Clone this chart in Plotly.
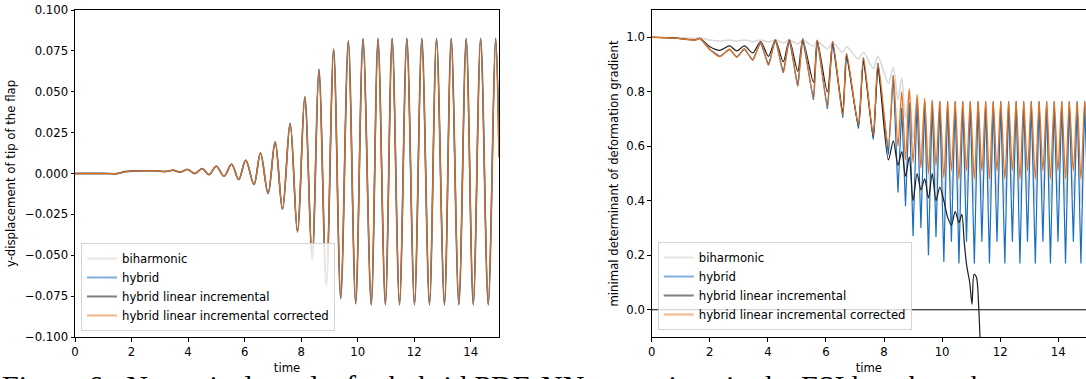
import plotly.graph_objects as go

# ---------------- left panel: y-displacement of tip of the flap ----------------
disp_time = [0.0, 1.0, 1.5, 1.8, 2.3, 2.8, 3.2, 3.475, 3.72, 3.98, 4.24, 4.50, 4.74, 5.00,
             5.27, 5.54, 5.79, 6.04, 6.33, 6.56, 6.83, 7.08, 7.34, 7.61, 7.87, 8.13, 8.39,
             8.63, 8.89, 9.15, 9.40, 9.67, 9.93, 10.19, 10.48, 10.72, 10.98, 11.22, 11.48,
             11.74, 12.01, 12.27, 12.54, 12.79, 13.07, 13.31, 13.58, 13.84, 14.09, 14.35,
             14.62, 14.88, 15.0]
disp_value = [0.0, 0.0, 0.0, 0.0012, 0.0016, 0.0017, 0.0012, 0.0020, 0.0008, 0.0025, 0.0,
              0.0030, -0.0007, 0.0045, -0.0017, 0.0057, -0.0037, 0.0081, -0.0067, 0.0126,
              -0.0122, 0.0193, -0.0218, 0.0306, -0.0357, 0.0468, -0.0524, 0.0636, -0.0687,
              0.0760, -0.0764, 0.0810, -0.0795, 0.0823, -0.0800, 0.0823, -0.0800, 0.0825,
              -0.0800, 0.0825, -0.0800, 0.0825, -0.0800, 0.0825, -0.0800, 0.0825, -0.0800,
              0.0825, -0.0800, 0.0825, -0.0800, 0.0825, 0.0100]
disp_hybrid = [0.0, 0.0, 0.0, 0.0012, 0.0016, 0.0017, 0.0012, 0.0020, 0.0008, 0.0025, 0.0,
               0.0030, -0.0007, 0.0045, -0.0017, 0.0057, -0.0037, 0.0081, -0.0067, 0.0126,
               -0.0122, 0.0193, -0.0218, 0.0306, -0.0357, 0.0468, -0.0524, 0.0636, -0.0680,
               0.0762, -0.0766, 0.0812, -0.0798, 0.0826, -0.0805, 0.0827, -0.0806, 0.0828,
               -0.0806, 0.0828, -0.0806, 0.0828, -0.0806, 0.0828, -0.0806, 0.0828, -0.0806,
               0.0828, -0.0806, 0.0828, -0.0806, 0.0828, 0.0200]

# ---------------- right panel: minimal determinant of deformation gradient ----------------
det_time = [0.0, 0.8, 1.5, 1.66, 2.0, 2.35, 2.68, 2.93, 3.19, 3.48,
            3.75, 4.02, 4.26, 4.53, 4.74, 5.03, 5.20, 5.57, 5.70, 6.05,
            6.23, 6.58, 6.71, 7.12, 7.29, 7.63, 7.79, 8.15, 8.32, 8.48,
            8.61, 8.74, 8.87, 9.00, 9.14, 9.27,
            9.40, 9.53, 9.66, 9.79, 9.92, 10.06, 10.19, 10.32, 10.45, 10.58,
            10.71, 10.84, 10.97, 11.11, 11.24, 11.37, 11.50, 11.63, 11.76, 11.89,
            12.02, 12.16, 12.29, 12.42, 12.55, 12.68, 12.81, 12.94, 13.07, 13.21,
            13.34, 13.47, 13.60, 13.73, 13.86, 13.99, 14.12, 14.25, 14.38, 14.52,
            14.65, 14.78, 14.91, 15.0]
det_biharmonic = [1.0, 0.999, 0.996, 0.998, 0.990, 0.986, 0.990, 0.986, 0.990, 0.984,
                  0.990, 0.982, 0.990, 0.980, 0.990, 0.975, 0.990, 0.968, 0.985, 0.958,
                  0.980, 0.945, 0.965, 0.920, 0.945, 0.885, 0.930, 0.830, 0.890, 0.770,
                  0.850, 0.700, 0.810, 0.630, 0.780, 0.560,
                  0.760, 0.480, 0.750, 0.450, 0.740, 0.400, 0.730, 0.420, 0.730, 0.390,
                  0.730, 0.420, 0.730, 0.390, 0.730, 0.420, 0.730, 0.390, 0.730, 0.420,
                  0.730, 0.390, 0.730, 0.420, 0.730, 0.390, 0.730, 0.420, 0.730, 0.390,
                  0.730, 0.420, 0.730, 0.390, 0.730, 0.420, 0.730, 0.390, 0.730, 0.420,
                  0.730, 0.390, 0.730, 0.560]
det_hybrid = [1.0, 0.997, 0.990, 0.996, 0.955, 0.929, 0.956, 0.927, 0.957, 0.916,
              0.982, 0.898, 0.992, 0.870, 0.992, 0.821, 0.995, 0.770, 0.990, 0.737,
              0.985, 0.705, 0.940, 0.665, 0.925, 0.625, 0.905, 0.570, 0.860, 0.430,
              0.740, 0.380, 0.760, 0.270, 0.770, 0.300,
              0.765, 0.200, 0.765, 0.267, 0.765, 0.175, 0.765, 0.250, 0.765, 0.170,
              0.765, 0.250, 0.765, 0.170, 0.765, 0.250, 0.765, 0.170, 0.765, 0.250,
              0.765, 0.170, 0.765, 0.250, 0.765, 0.170, 0.765, 0.250, 0.765, 0.170,
              0.765, 0.250, 0.765, 0.170, 0.765, 0.250, 0.765, 0.170, 0.765, 0.250,
              0.765, 0.170, 0.765, 0.450]
det_corrected = [1.0, 0.997, 0.990, 0.996, 0.955, 0.929, 0.956, 0.927, 0.957, 0.916,
                 0.982, 0.898, 0.992, 0.870, 0.992, 0.821, 0.995, 0.776, 0.990, 0.745,
                 0.985, 0.714, 0.940, 0.678, 0.925, 0.641, 0.905, 0.598, 0.860, 0.600,
                 0.800, 0.550, 0.810, 0.540, 0.790, 0.520,
                 0.776, 0.500, 0.770, 0.530, 0.765, 0.485, 0.765, 0.510, 0.765, 0.480,
                 0.765, 0.510, 0.765, 0.480, 0.765, 0.510, 0.765, 0.480, 0.765, 0.510,
                 0.765, 0.480, 0.765, 0.510, 0.765, 0.480, 0.765, 0.510, 0.765, 0.480,
                 0.765, 0.510, 0.765, 0.480, 0.765, 0.510, 0.765, 0.480, 0.765, 0.510,
                 0.765, 0.480, 0.765, 0.620]
det_lin_inc_time = [0.0, 0.8, 1.5, 1.66, 2.0, 2.35, 2.68, 2.93, 3.19, 3.48,
                    3.75, 4.02, 4.26, 4.53, 4.74, 5.03, 5.20, 5.57, 5.70, 6.05,
                    6.23, 6.58, 6.71, 7.12, 7.29, 7.63, 7.79, 8.15, 8.32, 8.48,
                    8.61, 8.74, 8.87, 9.00, 9.14, 9.27, 9.40, 9.53, 9.66, 9.79,
                    9.92, 10.06, 10.19, 10.32, 10.45, 10.58, 10.68, 10.76, 10.85, 10.95,
                    11.03, 11.10, 11.18, 11.26, 11.32]
det_lin_inc = [1.0, 0.997, 0.990, 0.996, 0.965, 0.952, 0.968, 0.950, 0.968, 0.943,
               0.984, 0.930, 0.990, 0.910, 0.990, 0.875, 0.990, 0.835, 0.985, 0.800,
               0.975, 0.730, 0.930, 0.675, 0.910, 0.635, 0.885, 0.550, 0.620, 0.530,
               0.580, 0.490, 0.560, 0.400, 0.500, 0.440, 0.480, 0.410, 0.500, 0.400,
               0.450, 0.400, 0.340, 0.310, 0.360, 0.320, 0.350, 0.250, 0.160, 0.100,
               0.020, 0.130, 0.120, 0.010, -0.150]

series_names = ["biharmonic", "hybrid", "hybrid linear incremental",
                "hybrid linear incremental corrected"]
plot_colors = ["#d9d9d9", "#1a6fc0", "#1e1e1e", "#e8711a"]
legend_colors = ["#e6e6e6", "#7fb1dc", "#7f7f7f", "#f4b48a"]

FONT = "DejaVu Sans"
FS = 11.7

fig = go.Figure()

# left panel
left_series = [(disp_time, disp_value), (disp_time, disp_hybrid),
               (disp_time, disp_value), (disp_time, disp_value)]
left_colors = ["#dcdcdc", "#1a6fc0", "#5a5a5a", "#e8711a"]
left_opac = [1.0, 1.0, 0.8, 0.9]
left_width = [2.0, 1.4, 1.5, 1.3]
for i, (tx, ty) in enumerate(left_series):
    fig.add_trace(go.Scatter(x=tx, y=ty, mode="lines", xaxis="x", yaxis="y",
                             line=dict(color=left_colors[i], width=left_width[i],
                                       shape="spline", smoothing=1.0),
                             opacity=left_opac[i], showlegend=False, hoverinfo="skip"))

# right panel
right_series = [(det_time, det_biharmonic, "spline"), (det_time, det_hybrid, "linear"),
                (det_lin_inc_time, det_lin_inc, "spline"), (det_time, det_corrected, "spline")]
right_width = [1.6, 1.2, 1.2, 1.3]
for i, (tx, ty, shp) in enumerate(right_series):
    ln = dict(color=plot_colors[i], width=right_width[i], shape=shp)
    if shp == "spline":
        ln["smoothing"] = 0.8
    fig.add_trace(go.Scatter(x=tx, y=ty, mode="lines", xaxis="x2", yaxis="y2",
                             line=ln, showlegend=False, hoverinfo="skip"))

# legend entries
for lg, ax, ay in (("legend", "x", "y"), ("legend2", "x2", "y2")):
    for i, nm in enumerate(series_names):
        fig.add_trace(go.Scatter(x=[None], y=[None], mode="lines", name=nm,
                                 xaxis=ax, yaxis=ay, legend=lg,
                                 line=dict(color=legend_colors[i], width=2)))

# horizontal reference line at 0 in right panel
fig.add_shape(type="line", xref="x2 domain", yref="y2", x0=0, x1=1, y0=0, y1=0,
              line=dict(color="black", width=1), layer="above")

axis_common = dict(showline=True, linecolor="black", linewidth=1, ticks="outside",
                   ticklen=3.5, tickwidth=0.8, tickcolor="black", showgrid=False,
                   zeroline=False, tickfont=dict(family=FONT, size=FS, color="black"))

legend_common = dict(bgcolor="rgba(255,255,255,0.8)", bordercolor="#d4d4d4", borderwidth=1,
                     font=dict(family=FONT, size=FS, color="black"),
                     xanchor="left", yanchor="bottom", itemwidth=30, tracegroupgap=0)

fig.update_layout(
    width=1086, height=379,
    margin=dict(l=75, r=0, t=10, b=42, autoexpand=False),
    paper_bgcolor="white", plot_bgcolor="white",
    font=dict(family=FONT, size=FS, color="black"),
    xaxis=dict(domain=[0, 0.41939], range=[0, 15], dtick=2, tick0=0, mirror=True,
               anchor="y", title=dict(text="time", standoff=6,
                                      font=dict(family=FONT, size=FS)), **axis_common),
    yaxis=dict(domain=[0, 1], range=[-0.1, 0.1], dtick=0.025, tick0=0, tickformat=".3f",
               mirror=True, anchor="x",
               title=dict(text="y-displacement of tip of the flap", standoff=6,
                          font=dict(family=FONT, size=FS)), **axis_common),
    xaxis2=dict(domain=[0.57042, 1], range=[0, 14.955], dtick=2, tick0=0, mirror=True,
                anchor="y2", title=dict(text="time", standoff=6,
                                        font=dict(family=FONT, size=FS)), **axis_common),
    yaxis2=dict(domain=[0, 1], range=[-0.1, 1.1], dtick=0.2, tick0=0, tickformat=".1f",
                mirror=False, anchor="x2",
                title=dict(text="minimal determinant of deformation gradient", standoff=5,
                           font=dict(family=FONT, size=FS)), **axis_common),
    legend=dict(x=0.00593, y=0.0184, **legend_common),
    legend2=dict(x=0.5764, y=0.0214, **legend_common),
)

fig.add_annotation(xref="paper", yref="paper", x=-0.07418, y=-0.092, xanchor="left",
                   yanchor="top", showarrow=False,
                   text="Figure 6:  Numerical results for hybrid PDE-NN extensions in the FSI benchmark",
                   font=dict(family="Liberation Serif", size=30, color="black"))

fig.write_html("out.html")
